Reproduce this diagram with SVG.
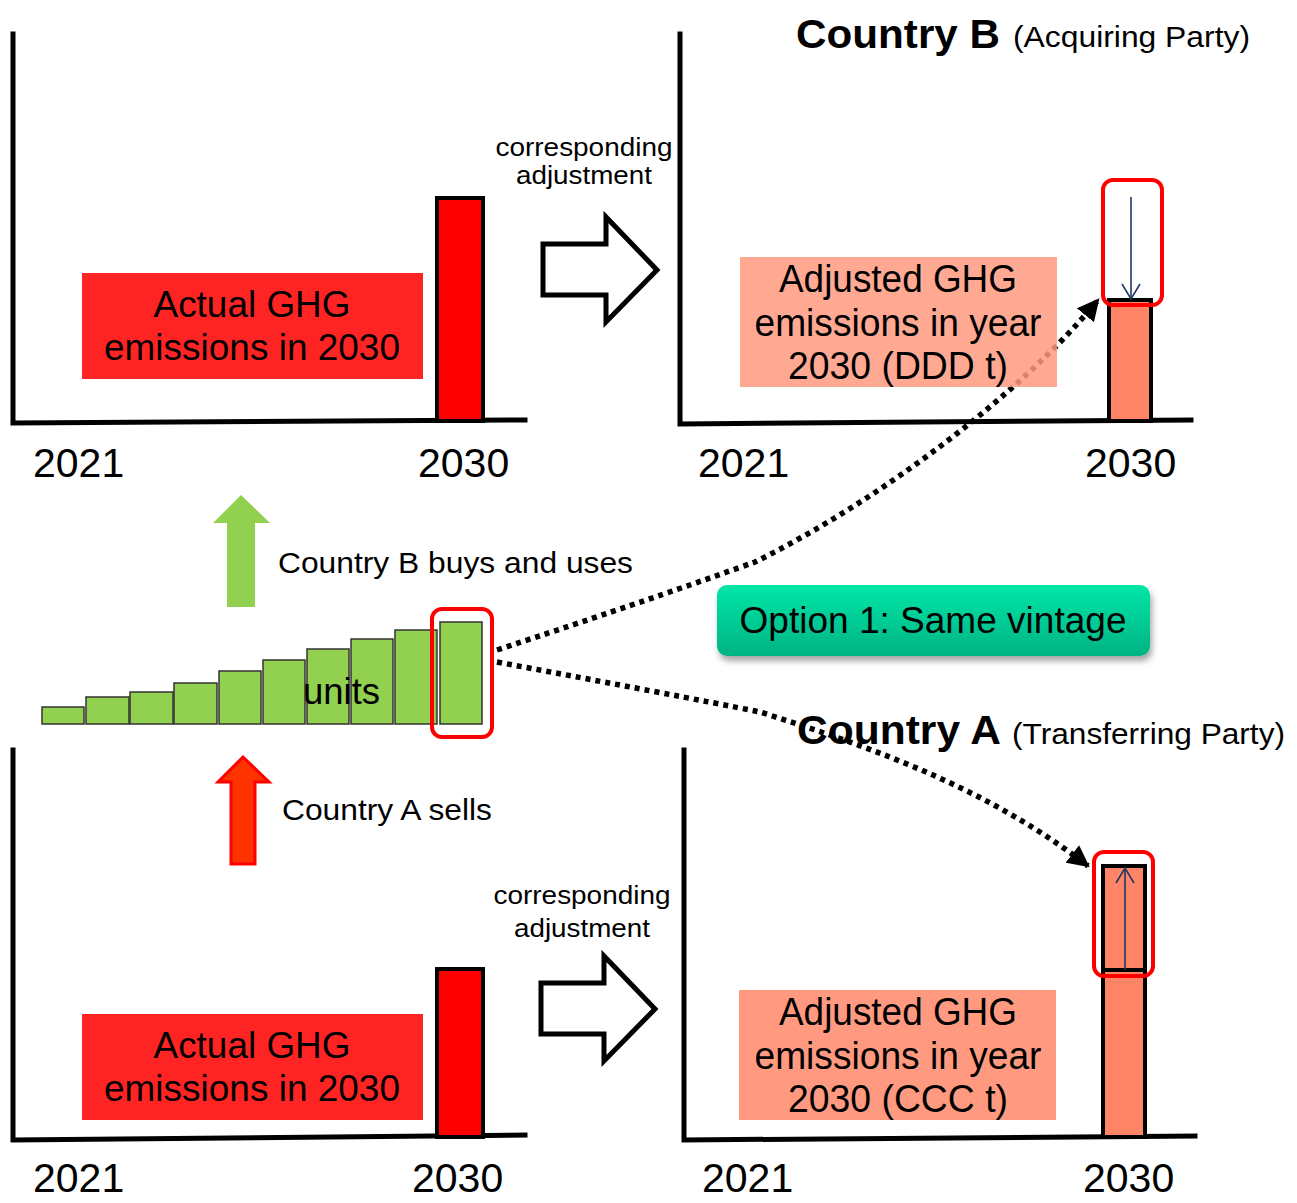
<svg xmlns="http://www.w3.org/2000/svg" width="1297" height="1203" viewBox="0 0 1297 1203">
<defs>
<style>
text{font-family:"Liberation Sans",Arial,sans-serif;fill:#000}
.axis{stroke:#000;stroke-width:5;fill:none;stroke-linecap:square}
.bar{fill:#ff0000;stroke:#000;stroke-width:4}
.cbar{fill:#ff8566;stroke:#000;stroke-width:4}
.lbl{fill:#ff2424}
.slbl{fill:#ff9a80}
.yr{font-size:41px}
.big{font-size:37px;text-anchor:middle}
.adj{font-size:38px;text-anchor:middle}
.ca{font-size:26px;text-anchor:middle}
.side{font-size:30px}
.hollow{fill:#fff;stroke:#000;stroke-width:5;stroke-linejoin:miter}
.hl{fill:none;stroke:#ff0000;stroke-width:4}
.unit{fill:#92d050;stroke:#333;stroke-width:1.5}
.dot{fill:none;stroke:#000;stroke-width:5.5;stroke-dasharray:5 5}
.navy{stroke:#1f3864;stroke-width:1.6;fill:none}
</style>
<marker id="tri" viewBox="0 0 10 10" refX="9" refY="5" markerWidth="4" markerHeight="4" orient="auto" markerUnits="strokeWidth">
<path d="M0,0 L10,5 L0,10 z" fill="#000"/>
</marker>
<linearGradient id="og" x1="0" y1="0" x2="0" y2="1">
<stop offset="0" stop-color="#00e6a8"/>
<stop offset="1" stop-color="#00b383"/>
</linearGradient>
<filter id="sh" x="-10%" y="-20%" width="120%" height="160%">
<feDropShadow dx="2" dy="5" stdDeviation="3" flood-color="#000" flood-opacity="0.35"/>
</filter>
</defs>

<g id="chart-top-left">
<path class="axis" d="M13,34 L13,423 L525,420"/>
<rect class="bar" x="437" y="198" width="46" height="223"/>
<rect class="lbl" x="82" y="273" width="341" height="106"/>
<text class="big" x="252" y="317" textLength="197" lengthAdjust="spacingAndGlyphs">Actual GHG</text>
<text class="big" x="252" y="360" textLength="296" lengthAdjust="spacingAndGlyphs">emissions in 2030</text>
<text class="yr" x="33" y="477">2021</text>
<text class="yr" x="418" y="477">2030</text>
</g>

<g id="adjust-top">
<text class="ca" x="584" y="156" textLength="177" lengthAdjust="spacingAndGlyphs">corresponding</text>
<text class="ca" x="584" y="184" textLength="136" lengthAdjust="spacingAndGlyphs">adjustment</text>
<path class="hollow" d="M543,244 L606,244 L606,217 L657,270 L606,322 L606,295 L543,295 Z"/>
</g>

<g id="connectors">
<path class="dot" d="M497,650 C640,603 710,578 755,562 C880,500 1020,395 1098,300" marker-end="url(#tri)"/>
<path class="dot" d="M497,662 C620,685 700,700 760,712 C880,750 990,790 1088,866" marker-end="url(#tri)"/>
</g>

<g id="chart-country-b">
<text x="796" y="48" font-size="41" font-weight="bold" textLength="204" lengthAdjust="spacingAndGlyphs">Country B</text>
<text x="1013" y="47" font-size="30" textLength="237" lengthAdjust="spacingAndGlyphs">(Acquiring Party)</text>
<path class="axis" d="M680,34 L680,424 L1191,420"/>
<rect class="cbar" x="1109" y="300" width="42" height="121"/>
<rect class="slbl" x="740" y="257" width="317" height="130" fill-opacity="0.85"/>
<text class="adj" x="898" y="292" textLength="238" lengthAdjust="spacingAndGlyphs">Adjusted GHG</text>
<text class="adj" x="898" y="336" textLength="287" lengthAdjust="spacingAndGlyphs">emissions in year</text>
<text class="adj" x="898" y="379" textLength="220" lengthAdjust="spacingAndGlyphs">2030 (DDD t)</text>
<rect class="hl" x="1103" y="180" width="59" height="125" rx="10"/>
<line class="navy" x1="1131" y1="197" x2="1131" y2="299"/>
<polyline class="navy" points="1122,284 1131,299 1140,284"/>
<text class="yr" x="698" y="477">2021</text>
<text class="yr" x="1085" y="477">2030</text>
</g>

<g id="arrow-buys">
<path d="M227,607 L227,523 L213,523 L241,495 L270,523 L255,523 L255,607 Z" fill="#92d050"/>
<text class="side" x="278" y="573" textLength="355" lengthAdjust="spacingAndGlyphs">Country B buys and uses</text>
</g>

<g id="units">
<rect class="unit" x="42" y="707" width="42" height="17"/>
<rect class="unit" x="86" y="697" width="43" height="27"/>
<rect class="unit" x="130" y="692" width="43" height="32"/>
<rect class="unit" x="174" y="683" width="43" height="41"/>
<rect class="unit" x="219" y="671" width="42" height="53"/>
<rect class="unit" x="263" y="660" width="42" height="64"/>
<rect class="unit" x="307" y="649" width="42" height="75"/>
<rect class="unit" x="351" y="639" width="42" height="85"/>
<rect class="unit" x="395" y="630" width="42" height="94"/>
<rect class="unit" x="440" y="622" width="42" height="102"/>
<text x="303" y="704" font-size="36" textLength="77" lengthAdjust="spacingAndGlyphs">units</text>
<rect class="hl" x="432" y="609" width="60" height="128" rx="10"/>
</g>

<g id="arrow-sells">
<path d="M231,864 L231,782 L218,782 L243,757 L269,782 L255,782 L255,864 Z" fill="#ff3300" stroke="#ff0000" stroke-width="3"/>
<text class="side" x="282" y="820" textLength="210" lengthAdjust="spacingAndGlyphs">Country A sells</text>
</g>

<g id="option-box">
<rect x="717" y="585" width="433" height="71" rx="10" fill="url(#og)" filter="url(#sh)"/>
<text x="933" y="633" font-size="36" text-anchor="middle" textLength="387" lengthAdjust="spacingAndGlyphs">Option 1: Same vintage</text>
</g>

<g id="chart-bottom-left">
<path class="axis" d="M13,750 L13,1140 L525,1135"/>
<rect class="bar" x="437" y="969" width="46" height="168"/>
<rect class="lbl" x="82" y="1014" width="341" height="106"/>
<text class="big" x="252" y="1058" textLength="197" lengthAdjust="spacingAndGlyphs">Actual GHG</text>
<text class="big" x="252" y="1101" textLength="296" lengthAdjust="spacingAndGlyphs">emissions in 2030</text>
<text class="yr" x="33" y="1192">2021</text>
<text class="yr" x="412" y="1192">2030</text>
</g>

<g id="adjust-bottom">
<text class="ca" x="582" y="904" textLength="177" lengthAdjust="spacingAndGlyphs">corresponding</text>
<text class="ca" x="582" y="937" textLength="136" lengthAdjust="spacingAndGlyphs">adjustment</text>
<path class="hollow" d="M541,983 L604,983 L604,956 L655,1009 L604,1061 L604,1034 L541,1034 Z"/>
</g>

<g id="chart-country-a">
<text x="797" y="744" font-size="41" font-weight="bold" textLength="204" lengthAdjust="spacingAndGlyphs">Country A</text>
<text x="1012" y="744" font-size="30" textLength="273" lengthAdjust="spacingAndGlyphs">(Transferring Party)</text>
<path class="axis" d="M684,750 L684,1140 L1195,1136"/>
<rect class="cbar" x="1103" y="970" width="42" height="167"/>
<rect class="cbar" x="1103" y="866" width="42" height="104"/>
<rect class="slbl" x="739" y="990" width="317" height="130"/>
<text class="adj" x="898" y="1025" textLength="238" lengthAdjust="spacingAndGlyphs">Adjusted GHG</text>
<text class="adj" x="898" y="1069" textLength="287" lengthAdjust="spacingAndGlyphs">emissions in year</text>
<text class="adj" x="898" y="1112" textLength="220" lengthAdjust="spacingAndGlyphs">2030 (CCC t)</text>
<rect class="hl" x="1094" y="852" width="59" height="124" rx="10"/>
<line class="navy" x1="1125" y1="970" x2="1125" y2="868"/>
<polyline class="navy" points="1116,883 1125,868 1134,883"/>
<text class="yr" x="702" y="1192">2021</text>
<text class="yr" x="1083" y="1192">2030</text>
</g>
</svg>
